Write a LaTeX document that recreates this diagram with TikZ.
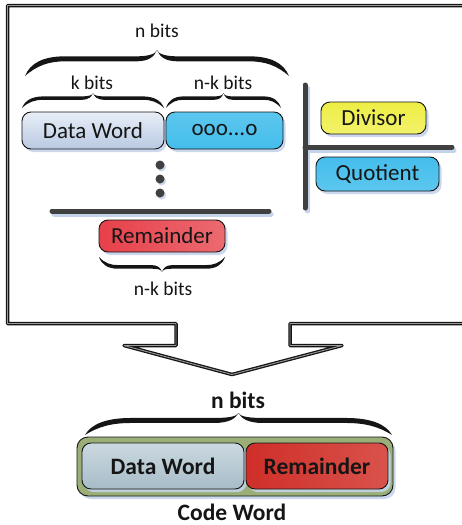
\documentclass[tikz,border=0pt]{standalone}
\usepackage{fontspec}
\setmainfont{Carlito}
\usetikzlibrary{shadows}

\definecolor{txt}{HTML}{151515}
\definecolor{shadowblue}{HTML}{C4D3EA}
\definecolor{bardark}{HTML}{404040}
\definecolor{dwtop}{HTML}{E8EEF7}
\definecolor{dwbot}{HTML}{B9C9E2}
\definecolor{cyanbox}{HTML}{44BDEB}
\definecolor{cyanlight}{HTML}{5CC7EF}
\definecolor{yellowbox}{HTML}{EEEE45}
\definecolor{yellowlight}{HTML}{F2F26A}
\definecolor{redtop}{HTML}{E7404A}
\definecolor{redbot}{HTML}{EC6A71}
\definecolor{olive}{HTML}{9BAE77}
\definecolor{graytop}{HTML}{CBD9E0}
\definecolor{graybot}{HTML}{A7BCC8}
\definecolor{deepred}{HTML}{CF2F28}
\definecolor{deepredlight}{HTML}{D9524C}
\definecolor{framemid}{HTML}{9A9A9A}

% calligraphic curly brace: left x, right x, y of the ends, y of the tip, thickness
\newcommand\cbrace[5]{%
  \pgfmathsetmacro\bL{#1}%
  \pgfmathsetmacro\bR{#2}%
  \pgfmathsetmacro\bE{#3}%
  \pgfmathsetmacro\bH{#4-#3}%
  \pgfmathsetmacro\bW{#2-#1}%
  \pgfmathsetmacro\bA{#3+0.66*\bH+0.5*#5*sign(\bH)}%
  \pgfmathsetmacro\bB{#3+0.66*\bH-0.5*#5*sign(\bH)}%
  \fill[txt]
    (\bL,\bE) .. controls ({\bL+0.02*\bW},{\bE+0.5*\bH}) and ({\bL+0.07*\bW},\bA) .. ({\bL+0.15*\bW},\bA)
    -- ({\bL+0.42*\bW},\bA) .. controls ({\bL+0.47*\bW},\bA) and ({\bL+0.495*\bW},{\bE+0.85*\bH}) .. ({\bL+0.5*\bW},{\bE+\bH})
    .. controls ({\bR-0.495*\bW},{\bE+0.85*\bH}) and ({\bR-0.47*\bW},\bA) .. ({\bR-0.42*\bW},\bA)
    -- ({\bR-0.15*\bW},\bA) .. controls ({\bR-0.07*\bW},\bA) and ({\bR-0.02*\bW},{\bE+0.5*\bH}) .. (\bR,\bE)
    .. controls ({\bR-0.045*\bW},{\bE+0.4*\bH}) and ({\bR-0.09*\bW},\bB) .. ({\bR-0.15*\bW},\bB)
    -- ({\bR-0.42*\bW},\bB) .. controls ({\bR-0.47*\bW},\bB) and ({\bR-0.49*\bW},{\bE+0.75*\bH}) .. ({\bL+0.5*\bW},{\bE+\bH})
    .. controls ({\bL+0.49*\bW},{\bE+0.75*\bH}) and ({\bL+0.47*\bW},\bB) .. ({\bL+0.42*\bW},\bB)
    -- ({\bL+0.15*\bW},\bB) .. controls ({\bL+0.09*\bW},\bB) and ({\bL+0.045*\bW},{\bE+0.4*\bH}) .. (\bL,\bE) -- cycle;
}

\tikzset{
  box/.style={draw=txt, line width=0.9pt, rounded corners=9pt, inner sep=0pt,
    text=txt, font=\fontsize{23}{27}\selectfont,
    drop shadow={shadow xshift=2.5pt, shadow yshift=-3pt, fill=shadowblue, opacity=0.9}},
  boldbox/.style={box, font=\bfseries\fontsize{23.5}{28}\selectfont},
  lbl/.style={anchor=base, inner sep=0pt, text=txt, font=\fontsize{19.5}{23}\selectfont},
  boldlbl/.style={anchor=base, inner sep=0pt, text=txt, font=\bfseries\fontsize{23.5}{28}\selectfont},
  outline/.style={draw=txt, line width=1.3pt, double=framemid, double distance=0.9pt, line join=round},
  bar/.style={draw=bardark, line width=5pt, line cap=round},
  barshadow/.style={draw=shadowblue, line width=5pt, line cap=round},
  dot/.style={circle, fill=bardark, inner sep=0pt, minimum size=9pt,
    drop shadow={shadow xshift=1.5pt, shadow yshift=-2pt, fill=shadowblue, opacity=0.9}},
}

\begin{document}
\begin{tikzpicture}[x=1pt, y=-1pt]
\useasboundingbox (0,0) rectangle (462,525);
\clip (0,0) rectangle (462,525);

% frame with its downward arrow
\draw[outline] (472,5.5) -- (7.5,5.5) -- (7.5,323.5) -- (176,323.5) -- (176,345.5) -- (124,345.5)
  -- (232,374.5) -- (342,345.5) -- (290,345.5) -- (290,323.5) -- (472,323.5);

% long division: bars
\draw[barshadow] (54,214) -- (271,214);
\draw[bar] (52,211) -- (269,211);
\draw[barshadow] (307.5,88) -- (307.5,211);
\draw[barshadow] (308,150) -- (454,150);
\draw[bar] (305,85) -- (305,208);
\draw[bar] (305,147) -- (452,147);

% dividend
\node[box, top color=dwtop, bottom color=dwbot, minimum width=142pt, minimum height=37pt] (dw) at (93,130.5) {Data Word};
\node[box, top color=cyanlight, bottom color=cyanbox, minimum width=117pt, minimum height=37pt] (zeros) at (224.5,130.5) {ooo...o};

% divisor and quotient
\node[box, top color=yellowbox, bottom color=yellowlight, minimum width=105pt, minimum height=32pt] (div) at (373.5,118) {Divisor};
\node[box, top color=cyanbox, bottom color=cyanlight, minimum width=123pt, minimum height=34pt] (quo) at (377.5,174) {Quotient};

% remainder
\node[box, left color=redtop, right color=redbot, minimum width=126pt, minimum height=32pt] (rem) at (162,236) {Remainder};

% continuation dots
\node[dot] (d1) at (160,165) {};
\node[dot] (d2) at (160,179) {};
\node[dot] (d3) at (160,193) {};

% bit-count braces and labels
\cbrace{25}{289}{76}{50}{5}
\node[lbl] (nbits) at (157,37) {n bits};
\cbrace{22}{164}{108}{93}{3.4}
\node[lbl] (kbits) at (92,89) {k bits};
\cbrace{166}{281}{108}{93}{3.4}
\node[lbl] (nkbits) at (223,89) {n-k bits};
\cbrace{99}{225}{257}{272}{3.6}
\node[lbl] (rbits) at (163,295) {n-k bits};

% resulting code word
\node[box, fill=olive, rounded corners=11pt, minimum width=316pt, minimum height=59pt] (cw) at (235,466.5) {};
\node[boldbox, top color=graytop, bottom color=graybot, minimum width=162pt, minimum height=46pt, drop shadow={opacity=0}] (dw2) at (163,466) {Data Word};
\node[boldbox, left color=deepred, right color=deepredlight, minimum width=142pt, minimum height=46pt, drop shadow={opacity=0}] (rem2) at (317,466) {Remainder};
\cbrace{85}{392}{435}{413}{5}
\node[boldlbl] (nbits2) at (238,408) {n bits};
\node[boldlbl] (cwlbl) at (232,520) {Code Word};
\end{tikzpicture}
\end{document}
